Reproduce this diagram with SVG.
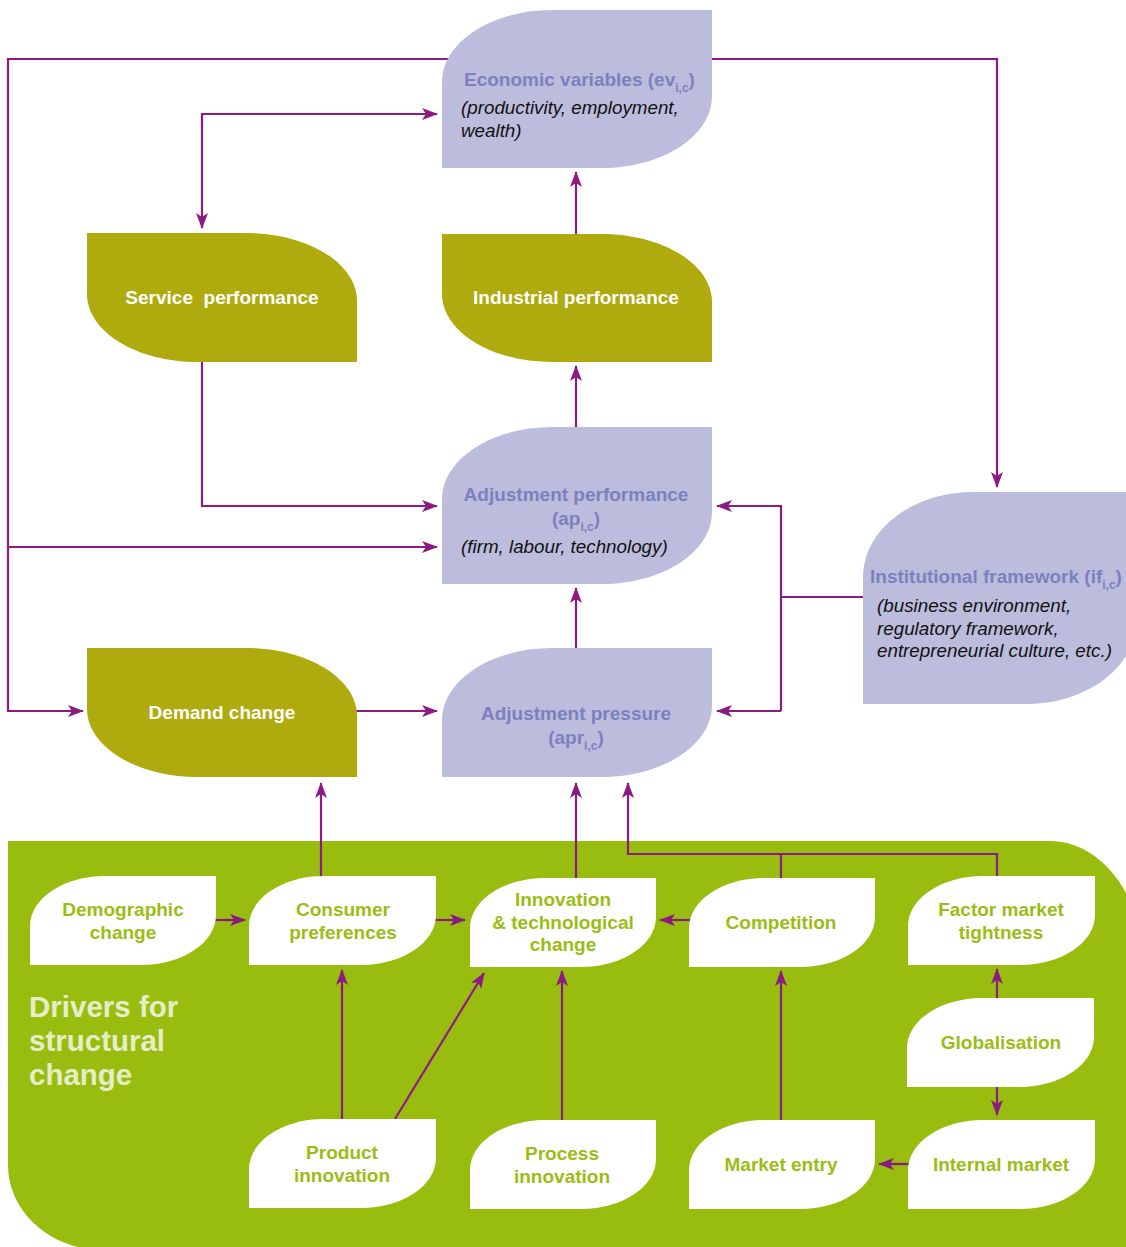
<svg xmlns="http://www.w3.org/2000/svg" width="1126" height="1247" viewBox="0 0 1126 1247">
<style>
.lav{fill:#BCBCDD}
.oli{fill:#AFAA0D}
.wht{fill:#FFFFFF}
.lt{font-family:"Liberation Sans",Arial,sans-serif;font-weight:bold;font-size:19px;fill:#7C80BE}
.it{font-family:"Liberation Sans",Arial,sans-serif;font-style:italic;font-size:18.8px;fill:#111111}
.ot{font-family:"Liberation Sans",Arial,sans-serif;font-weight:bold;font-size:19px;fill:#FFFFFF}
.gt{font-family:"Liberation Sans",Arial,sans-serif;font-weight:bold;font-size:19px;fill:#9ABD14}
.dt{font-family:"Liberation Sans",Arial,sans-serif;font-weight:bold;font-size:29.5px;fill:#E5EEC8}
.sub{font-size:12px}
.con path{fill:none;stroke:#8B1B83;stroke-width:2.2}
</style>
<defs>
<marker id="ah" markerUnits="userSpaceOnUse" markerWidth="16" markerHeight="12" refX="15" refY="6" orient="auto-start-reverse">
<path d="M0,0 L16,6 L0,12 L4,6 Z" fill="#8B1B83"/>
</marker>
</defs>
<rect width="1126" height="1247" fill="#FFFFFF"/>
<path id="drivers-bg" d="M8,841 H1050 C1102.5,841 1145,899 1145,971 V1250 H103 C50.5,1250 8,1212 8,1165 Z" fill="#99BD0F"/>
<g id="drivers-label">
<text class="dt" x="29" y="1017">Drivers for</text>
<text class="dt" x="29" y="1051">structural</text>
<text class="dt" x="29" y="1085">change</text>
</g>
<g id="connectors" class="con">
<path d="M455,59 H8 V711 H83" marker-end="url(#ah)"/>
<path d="M8,547 H437" marker-end="url(#ah)"/>
<path d="M202,228 V114 H437" marker-start="url(#ah)" marker-end="url(#ah)"/>
<path d="M576,236 V172" marker-end="url(#ah)"/>
<path d="M576,429 V366" marker-end="url(#ah)"/>
<path d="M576,650 V588" marker-end="url(#ah)"/>
<path d="M202,360 V506 H437" marker-end="url(#ah)"/>
<path d="M700,59 H997 V487" marker-end="url(#ah)"/>
<path d="M870,597 H781"/>
<path d="M781,711 V506 H717" marker-end="url(#ah)"/>
<path d="M781,711 H717" marker-end="url(#ah)"/>
<path d="M355,711 H437" marker-end="url(#ah)"/>
<path d="M321,880 V783" marker-end="url(#ah)"/>
<path d="M576,880 V783" marker-end="url(#ah)"/>
<path d="M781,880 V854 H997 V880"/>
<path d="M781,854 H628 V783" marker-end="url(#ah)"/>
<path d="M214,920 H245" marker-end="url(#ah)"/>
<path d="M434,920 H465" marker-end="url(#ah)"/>
<path d="M691,920 H660" marker-end="url(#ah)"/>
<path d="M342,1121 V970" marker-end="url(#ah)"/>
<path d="M395,1119 L484,973" marker-end="url(#ah)"/>
<path d="M562,1122 V971" marker-end="url(#ah)"/>
<path d="M781,1122 V971" marker-end="url(#ah)"/>
<path d="M997,1000 V969" marker-end="url(#ah)"/>
<path d="M997,1085 V1115" marker-end="url(#ah)"/>
<path d="M910,1164 H879" marker-end="url(#ah)"/>
</g>
<g id="economic-variables">
<path class="lav" d="M442,168 V82 C442,42.3 491.3,10 552,10 H712 V96 C712,135.7 662.7,168 602,168 Z"/>
<text class="lt" x="464" y="86">Economic variables (ev<tspan class="sub" dy="6">i,c</tspan><tspan dy="-6">)</tspan></text>
<text class="it" x="461" y="114">(productivity, employment,</text>
<text class="it" x="461" y="137">wealth)</text>
</g>
<g id="service-performance">
<path class="oli" d="M87,233 H247 C307.7,233 357,263.5 357,301 V362 H197 C136.3,362 87,331.5 87,294 Z"/>
<text class="ot" x="222" y="304" text-anchor="middle" xml:space="preserve">Service  performance</text>
</g>
<g id="industrial-performance">
<path class="oli" d="M442,234 H602 C662.7,234 712,264.5 712,302 V362 H552 C491.3,362 442,331.5 442,294 Z"/>
<text class="ot" x="576" y="304" text-anchor="middle">Industrial performance</text>
</g>
<g id="adjustment-performance">
<path class="lav" d="M442,584 V499 C442,459.3 491.3,427 552,427 H712 V512 C712,551.7 662.7,584 602,584 Z"/>
<text class="lt" x="576" y="501" text-anchor="middle">Adjustment performance</text>
<text class="lt" x="576" y="525" text-anchor="middle">(ap<tspan class="sub" dy="6">i,c</tspan><tspan dy="-6">)</tspan></text>
<text class="it" x="461" y="553">(firm, labour, technology)</text>
</g>
<g id="institutional-framework">
<path class="lav" d="M863,704 V577 C863,530.1 912.3,492 973,492 H1137 V619 C1137,665.9 1087.7,704 1027,704 Z"/>
<text class="lt" x="870" y="583">Institutional framework (if<tspan class="sub" dy="6">i,c</tspan><tspan dy="-6">)</tspan></text>
<text class="it" x="877" y="612">(business environment,</text>
<text class="it" x="877" y="635">regulatory framework,</text>
<text class="it" x="877" y="657">entrepreneurial culture, etc.)</text>
</g>
<g id="demand-change">
<path class="oli" d="M87,648 H247 C307.7,648 357,678.5 357,716 V777 H197 C136.3,777 87,746.5 87,709 Z"/>
<text class="ot" x="222" y="719" text-anchor="middle">Demand change</text>
</g>
<g id="adjustment-pressure">
<path class="lav" d="M442,777 V720 C442,680.3 491.3,648 552,648 H712 V705 C712,744.7 662.7,777 602,777 Z"/>
<text class="lt" x="576" y="720" text-anchor="middle">Adjustment pressure</text>
<text class="lt" x="576" y="744" text-anchor="middle">(apr<tspan class="sub" dy="6">i,c</tspan><tspan dy="-6">)</tspan></text>
</g>
<g id="demographic-change">
<path class="wht" d="M30,965 V926 C30,898.4 63.6,876 105,876 H216 V915 C216,942.6 182.4,965 141,965 Z"/>
<text class="gt" x="123" y="916" text-anchor="middle">Demographic</text>
<text class="gt" x="123" y="939" text-anchor="middle">change</text>
</g>
<g id="consumer-preferences">
<path class="wht" d="M249,965 V926 C249,898.4 282.6,876 324,876 H436 V915 C436,942.6 402.4,965 361,965 Z"/>
<text class="gt" x="343" y="916" text-anchor="middle">Consumer</text>
<text class="gt" x="343" y="939" text-anchor="middle">preferences</text>
</g>
<g id="innovation">
<path class="wht" d="M470,967 V928 C470,900.4 503.6,878 545,878 H656 V917 C656,944.6 622.4,967 581,967 Z"/>
<text class="gt" x="563" y="906" text-anchor="middle">Innovation</text>
<text class="gt" x="563" y="929" text-anchor="middle">&amp; technological</text>
<text class="gt" x="563" y="951" text-anchor="middle">change</text>
</g>
<g id="competition">
<path class="wht" d="M689,967 V928 C689,900.4 722.6,878 764,878 H875 V917 C875,944.6 841.4,967 800,967 Z"/>
<text class="gt" x="781" y="929" text-anchor="middle">Competition</text>
</g>
<g id="factor-market-tightness">
<path class="wht" d="M908,965 V926 C908,898.4 941.6,876 983,876 H1095 V915 C1095,942.6 1061.4,965 1020,965 Z"/>
<text class="gt" x="1001" y="916" text-anchor="middle">Factor market</text>
<text class="gt" x="1001" y="939" text-anchor="middle">tightness</text>
</g>
<g id="globalisation">
<path class="wht" d="M907,1087 V1048 C907,1020.4 940.6,998 982,998 H1094 V1037 C1094,1064.6 1060.4,1087 1019,1087 Z"/>
<text class="gt" x="1001" y="1049" text-anchor="middle">Globalisation</text>
</g>
<g id="internal-market">
<path class="wht" d="M908,1209 V1170 C908,1142.4 941.6,1120 983,1120 H1095 V1159 C1095,1186.6 1061.4,1209 1020,1209 Z"/>
<text class="gt" x="1001" y="1171" text-anchor="middle">Internal market</text>
</g>
<g id="market-entry">
<path class="wht" d="M689,1209 V1170 C689,1142.4 722.6,1120 764,1120 H875 V1159 C875,1186.6 841.4,1209 800,1209 Z"/>
<text class="gt" x="781" y="1171" text-anchor="middle">Market entry</text>
</g>
<g id="product-innovation">
<path class="wht" d="M249,1208 V1169 C249,1141.4 282.6,1119 324,1119 H436 V1158 C436,1185.6 402.4,1208 361,1208 Z"/>
<text class="gt" x="342" y="1159" text-anchor="middle">Product</text>
<text class="gt" x="342" y="1182" text-anchor="middle">innovation</text>
</g>
<g id="process-innovation">
<path class="wht" d="M470,1209 V1170 C470,1142.4 503.6,1120 545,1120 H656 V1159 C656,1186.6 622.4,1209 581,1209 Z"/>
<text class="gt" x="562" y="1160" text-anchor="middle">Process</text>
<text class="gt" x="562" y="1183" text-anchor="middle">innovation</text>
</g>
</svg>
